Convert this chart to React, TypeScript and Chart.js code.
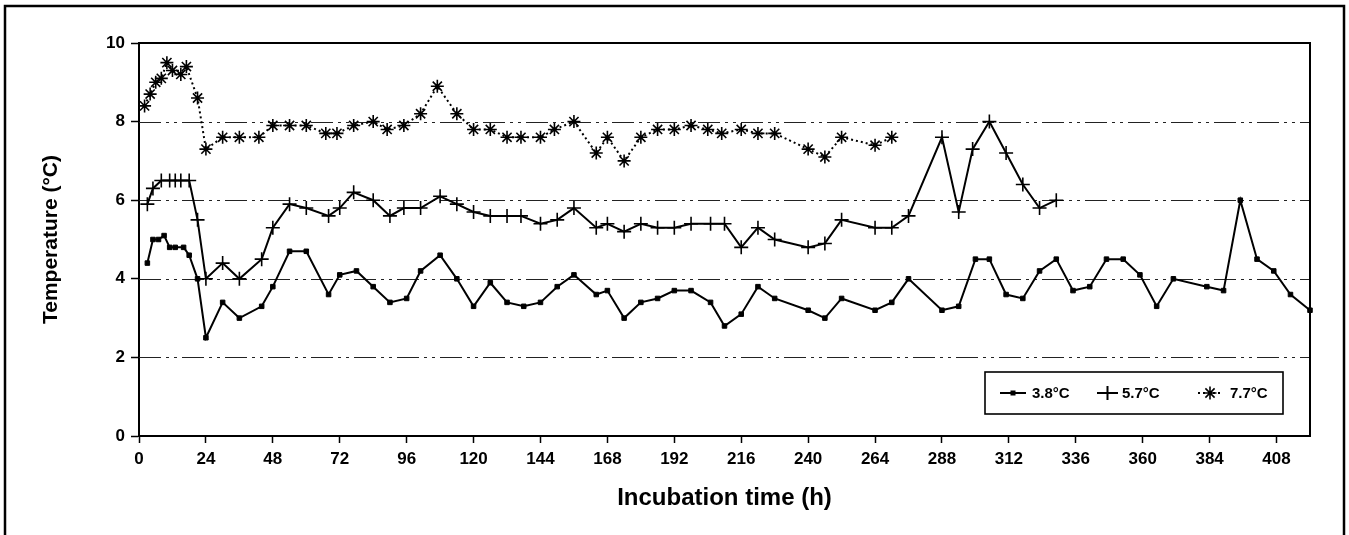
import React, { useEffect, useRef } from "react";
import { Chart, registerables } from "chart.js";

Chart.register(...registerables);

// ---- Data ----
const hours38 = [
  3, 5, 7, 9, 11, 13, 16, 18, 21, 24,
  30, 36, 44, 48, 54, 60, 68, 72, 78, 84, 90, 96,
  101, 108, 114, 120, 126, 132, 138, 144, 150, 156,
  164, 168, 174, 180, 186, 192, 198, 205, 210, 216,
  222, 228, 240, 246, 252, 264, 270, 276, 288, 294,
  300, 305, 311, 317, 323, 329, 335, 341, 347, 353,
  359, 365, 371, 383, 389, 395, 401, 407, 413, 420,
];
const temp38 = [
  4.4, 5.0, 5.0, 5.1, 4.8, 4.8, 4.8, 4.6, 4.0, 2.5,
  3.4, 3.0, 3.3, 3.8, 4.7, 4.7, 3.6, 4.1, 4.2, 3.8, 3.4, 3.5,
  4.2, 4.6, 4.0, 3.3, 3.9, 3.4, 3.3, 3.4, 3.8, 4.1,
  3.6, 3.7, 3.0, 3.4, 3.5, 3.7, 3.7, 3.4, 2.8, 3.1,
  3.8, 3.5, 3.2, 3.0, 3.5, 3.2, 3.4, 4.0, 3.2, 3.3,
  4.5, 4.5, 3.6, 3.5, 4.2, 4.5, 3.7, 3.8, 4.5, 4.5,
  4.1, 3.3, 4.0, 3.8, 3.7, 6.0, 4.5, 4.2, 3.6, 3.2,
];

const hours57 = [
  3, 5, 8, 11, 13, 15, 18, 21, 24,
  30, 36, 44, 48, 54, 60, 68, 72, 77, 84, 90, 95,
  101, 108, 114, 120, 126, 132, 137, 144, 150, 156,
  164, 168, 174, 180, 186, 192, 198, 205, 210, 216,
  222, 228, 240, 246, 252, 264, 270, 276, 288, 294,
  299, 305, 311, 317, 323, 329,
];
const temp57 = [
  5.9, 6.3, 6.5, 6.5, 6.5, 6.5, 6.5, 5.5, 4.0,
  4.4, 4.0, 4.5, 5.3, 5.9, 5.8, 5.6, 5.8, 6.2, 6.0, 5.6, 5.8,
  5.8, 6.1, 5.9, 5.7, 5.6, 5.6, 5.6, 5.4, 5.5, 5.8,
  5.3, 5.4, 5.2, 5.4, 5.3, 5.3, 5.4, 5.4, 5.4, 4.8,
  5.3, 5.0, 4.8, 4.9, 5.5, 5.3, 5.3, 5.6, 7.6, 5.7,
  7.3, 8.0, 7.2, 6.4, 5.8, 6.0,
];

const hours77 = [
  2, 4, 6, 8, 10, 12, 15, 17, 21, 24,
  30, 36, 43, 48, 54, 60, 67, 71, 77, 84, 89, 95,
  101, 107, 114, 120, 126, 132, 137, 144, 149, 156,
  164, 168, 174, 180, 186, 192, 198, 204, 209, 216,
  222, 228, 240, 246, 252, 264, 270,
];
const temp77 = [
  8.4, 8.7, 9.0, 9.1, 9.5, 9.3, 9.2, 9.4, 8.6, 7.3,
  7.6, 7.6, 7.6, 7.9, 7.9, 7.9, 7.7, 7.7, 7.9, 8.0, 7.8, 7.9,
  8.2, 8.9, 8.2, 7.8, 7.8, 7.6, 7.6, 7.6, 7.8, 8.0,
  7.2, 7.6, 7.0, 7.6, 7.8, 7.8, 7.9, 7.8, 7.7, 7.8,
  7.7, 7.7, 7.3, 7.1, 7.6, 7.4, 7.6,
];

const seriesLabels = ["3.8°C", "5.7°C", "7.7°C"];
const xTicks = [0, 24, 48, 72, 96, 120, 144, 168, 192, 216, 240, 264, 288, 312, 336, 360, 384, 408];
const yTicks = [0, 2, 4, 6, 8, 10];
const gridValues = [2, 4, 6, 8];
const xTitle = "Incubation time (h)";
const yTitle = "Temperature (°C)";

const FONT = "'Liberation Sans', Arial, Helvetica, sans-serif";

function toPoints(xs: number[], ys: number[]) {
  return xs.map((x, i) => ({ x, y: ys[i] }));
}

const decorPlugin = {
  id: "decor",
  beforeDatasetsDraw(chart: any) {
    const { ctx, chartArea, scales } = chart;
    const ys = scales.y;
    ctx.save();
    ctx.strokeStyle = "#222";
    ctx.lineWidth = 1.2;
    ctx.setLineDash([22, 5, 3, 5, 3, 5]);
    for (const v of gridValues) {
      const py = Math.round(ys.getPixelForValue(v)) + 0.5;
      ctx.beginPath();
      ctx.moveTo(chartArea.left, py);
      ctx.lineTo(chartArea.right, py);
      ctx.stroke();
    }
    ctx.restore();
  },
  afterDraw(chart: any) {
    const { ctx, chartArea } = chart;
    ctx.save();
    // plot box top & right
    ctx.strokeStyle = "#000";
    ctx.lineWidth = 2;
    ctx.beginPath();
    ctx.moveTo(chartArea.left, chartArea.top);
    ctx.lineTo(chartArea.right, chartArea.top);
    ctx.lineTo(chartArea.right, chartArea.bottom);
    ctx.stroke();
    // outer frame
    ctx.lineWidth = 2.5;
    ctx.strokeRect(5, 6, chart.width - 10, chart.height + 20);

    // legend
    const bw = 298;
    const bh = 42;
    const bx = chartArea.right - 27 - bw;
    const by = chartArea.bottom - 22 - bh;
    ctx.fillStyle = "#fff";
    ctx.fillRect(bx, by, bw, bh);
    ctx.lineWidth = 1.6;
    ctx.strokeRect(bx, by, bw, bh);
    const cy = by + bh / 2;
    ctx.fillStyle = "#000";
    ctx.strokeStyle = "#000";
    ctx.font = `bold 15px ${FONT}`;
    ctx.textBaseline = "middle";
    ctx.textAlign = "left";
    // item 1
    ctx.lineWidth = 2;
    ctx.beginPath();
    ctx.moveTo(bx + 15, cy);
    ctx.lineTo(bx + 41, cy);
    ctx.stroke();
    ctx.fillRect(bx + 28 - 2.5, cy - 2.5, 5, 5);
    ctx.fillText(seriesLabels[0], bx + 47, cy + 1);
    // item 2
    ctx.beginPath();
    ctx.moveTo(bx + 112, cy);
    ctx.lineTo(bx + 133, cy);
    ctx.moveTo(bx + 122.5, cy - 7);
    ctx.lineTo(bx + 122.5, cy + 7);
    ctx.stroke();
    ctx.fillText(seriesLabels[1], bx + 137, cy + 1);
    // item 3
    ctx.setLineDash([2, 3]);
    ctx.beginPath();
    ctx.moveTo(bx + 213, cy);
    ctx.lineTo(bx + 238, cy);
    ctx.stroke();
    ctx.setLineDash([]);
    const sx = bx + 225;
    const r = 6.5;
    ctx.lineWidth = 1.6;
    ctx.beginPath();
    ctx.moveTo(sx - r, cy);
    ctx.lineTo(sx + r, cy);
    ctx.moveTo(sx, cy - r);
    ctx.lineTo(sx, cy + r);
    const d = r * Math.SQRT1_2;
    ctx.moveTo(sx - d, cy - d);
    ctx.lineTo(sx + d, cy + d);
    ctx.moveTo(sx - d, cy + d);
    ctx.lineTo(sx + d, cy - d);
    ctx.stroke();
    ctx.fillText(seriesLabels[2], bx + 245, cy + 1);
    ctx.restore();
  },
};

export default function App() {
  const canvasRef = useRef<HTMLCanvasElement | null>(null);

  useEffect(() => {
    const canvas = canvasRef.current;
    if (!canvas) return;
    const chart = new Chart(canvas, {
      type: "line",
      data: {
        datasets: [
          {
            label: seriesLabels[0],
            data: toPoints(hours38, temp38),
            borderColor: "#000",
            backgroundColor: "#000",
            borderWidth: 2,
            pointStyle: "rect",
            pointRadius: 3.2,
            pointBorderWidth: 1,
            pointBorderColor: "#000",
            pointBackgroundColor: "#000",
            tension: 0,
            clip: false,
          } as any,
          {
            label: seriesLabels[1],
            data: toPoints(hours57, temp57),
            borderColor: "#000",
            backgroundColor: "#000",
            borderWidth: 2,
            pointStyle: "cross",
            pointRadius: 7,
            pointBorderWidth: 1.6,
            pointBorderColor: "#000",
            tension: 0,
            clip: false,
          } as any,
          {
            label: seriesLabels[2],
            data: toPoints(hours77, temp77),
            borderColor: "#000",
            backgroundColor: "#000",
            borderWidth: 2,
            borderDash: [2, 3],
            pointStyle: "star",
            pointRadius: 6.5,
            pointBorderWidth: 1.6,
            pointBorderColor: "#000",
            tension: 0,
            clip: false,
          } as any,
        ],
      },
      options: {
        responsive: false,
        animation: false,
        devicePixelRatio: 1,
        layout: { padding: { top: 43, right: 39, bottom: 0, left: 0 } },
        plugins: {
          legend: { display: false },
          tooltip: { enabled: false },
        },
        scales: {
          x: {
            type: "linear",
            min: 0,
            max: 420,
            afterBuildTicks: (s: any) => {
              s.ticks = xTicks.map((v) => ({ value: v }));
            },
            afterFit: (s: any) => {
              s.height = 99;
            },
            ticks: {
              color: "#000",
              font: { family: FONT, size: 17, weight: "bold" },
              padding: 6,
              maxRotation: 0,
              autoSkip: false,
            },
            grid: {
              display: true,
              drawOnChartArea: false,
              drawTicks: true,
              tickLength: 7,
              color: "#000",
              tickWidth: 1.5,
            },
            border: { display: true, color: "#000", width: 2 },
            title: {
              display: true,
              text: xTitle,
              color: "#000",
              font: { family: FONT, size: 24, weight: "bold" },
              padding: { top: 4, bottom: 22 },
            },
          },
          y: {
            type: "linear",
            min: 0,
            max: 10,
            afterBuildTicks: (s: any) => {
              s.ticks = yTicks.map((v) => ({ value: v }));
            },
            afterFit: (s: any) => {
              s.width = 139;
            },
            ticks: {
              color: "#000",
              font: { family: FONT, size: 17, weight: "bold" },
              padding: 6,
            },
            grid: {
              display: true,
              drawOnChartArea: false,
              drawTicks: true,
              tickLength: 8,
              color: "#000",
              tickWidth: 1.5,
            },
            border: { display: true, color: "#000", width: 2 },
            title: {
              display: true,
              text: yTitle,
              color: "#000",
              font: { family: FONT, size: 21, weight: "bold" },
              padding: { top: 39, bottom: 0 },
            },
          },
        },
      } as any,
      plugins: [decorPlugin],
    });
    return () => chart.destroy();
  }, []);

  return (
    <div
      style={{
        position: "absolute",
        left: 0,
        top: 0,
        width: 1349,
        height: 535,
        background: "#fff",
      }}
    >
      <canvas ref={canvasRef} width={1349} height={535} />
    </div>
  );
}
